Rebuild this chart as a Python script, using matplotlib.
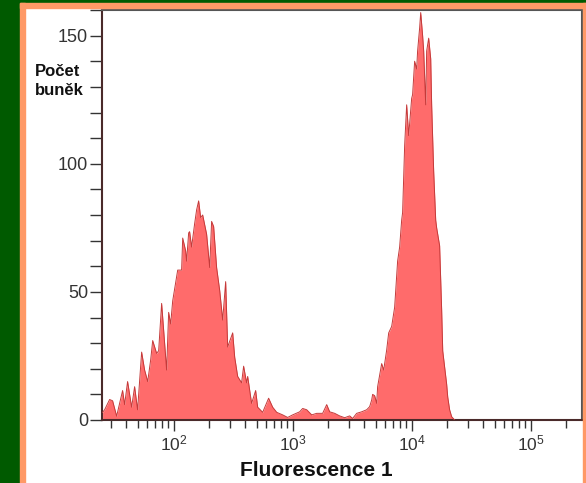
# %% Import packages
import matplotlib
matplotlib.use('Agg')
import matplotlib.pyplot as plt
import matplotlib.ticker as ticker
from matplotlib.patches import Rectangle
import numpy as np

plt.rcParams['font.family'] = ['Liberation Sans', 'DejaVu Sans']

# %% Histogram (log10 of fluorescence, cell counts)
fl_log = [1.403, 1.420, 1.462, 1.487, 1.521, 1.546, 1.571, 1.588, 1.613, 1.647,
          1.672, 1.697, 1.731, 1.756, 1.782, 1.807, 1.824, 1.857, 1.874, 1.899,
          1.916, 1.941, 1.958, 1.975, 1.992, 2.034, 2.067, 2.076, 2.101, 2.109,
          2.126, 2.134, 2.151, 2.176, 2.193, 2.210, 2.227, 2.244, 2.277, 2.303,
          2.319, 2.336, 2.361, 2.387, 2.412, 2.437, 2.454, 2.496, 2.513, 2.538,
          2.571, 2.588, 2.613, 2.622, 2.655, 2.689, 2.706, 2.748, 2.798, 2.832,
          2.866, 2.916, 2.958, 3.000, 3.059, 3.084, 3.118, 3.160, 3.202, 3.252,
          3.286, 3.311, 3.353, 3.395, 3.437, 3.479, 3.504, 3.538, 3.580, 3.622,
          3.647, 3.664, 3.672, 3.689, 3.706, 3.714, 3.748, 3.765, 3.790, 3.807,
          3.832, 3.857, 3.882, 3.899, 3.916, 3.924, 3.941, 3.958, 3.975, 4.000,
          4.008, 4.025, 4.042, 4.050, 4.067, 4.076, 4.092, 4.101, 4.118, 4.126,
          4.143, 4.160, 4.168, 4.185, 4.202, 4.210, 4.235, 4.252, 4.261, 4.294,
          4.303, 4.319, 4.336, 4.361]
counts = [3, 4, 8, 7.5, 1.5, 6.5, 11.5, 6, 15, 5,
          13, 4, 26.5, 19.5, 15, 23.5, 31, 26, 27, 45.5,
          35, 19.5, 42, 37.5, 46.5, 58.5, 58.5, 71, 66, 62,
          73, 73.5, 67.5, 76.5, 82, 85.5, 79, 80, 72.5, 59.5,
          77.5, 75.5, 59.5, 50.5, 39, 54, 28.5, 34, 24.5, 17,
          14.5, 21, 14.5, 17, 6.5, 11.5, 5, 3, 8.5, 5,
          3, 2, 1, 2, 3.2, 4.5, 4, 2, 2.6, 2.6,
          6, 3.2, 2.6, 1.6, 0.9, 1.6, 0.6, 2.6, 3.2, 4,
          5.2, 7.8, 10, 9.5, 6.5, 13, 22, 19.5, 27.3, 34,
          36.5, 44, 62, 67.5, 78, 81, 107, 123, 111, 125.5,
          127, 140, 137, 144, 153, 159, 150, 144, 123, 144,
          149, 141, 123, 97, 78, 75, 68, 43, 27, 14,
          9, 4, 1.3, 0]

y_ticks = [0, 50, 100, 150]
y_label = 'Počet\nbuněk'
x_label = 'Fluorescence 1'

fill_color = '#FF6B6B'
edge_color = '#C43A3A'

# %% Plot
fig = plt.figure(figsize=(5.86, 4.83), dpi=100)
fig.patch.set_facecolor('white')

W, H = 586.0, 483.0
# green and orange frame
fig.patches.append(Rectangle((0, 0), 20 / W, 1, transform=fig.transFigure,
                             color='#005A00', zorder=0))
fig.patches.append(Rectangle((0, 1 - 3 / H), 1, 3 / H, transform=fig.transFigure,
                             color='#005A00', zorder=0))
fig.patches.append(Rectangle((20 / W, 0), 5 / W, 1 - 3 / H, transform=fig.transFigure,
                             color='#FF9966', zorder=0))
fig.patches.append(Rectangle((20 / W, 1 - 8 / H), 1, 5 / H, transform=fig.transFigure,
                             color='#FF9966', zorder=0))
fig.patches.append(Rectangle((583 / W, 0), 3 / W, 1 - 3 / H, transform=fig.transFigure,
                             color='#FF9966', zorder=0))

ax = fig.add_axes([102 / W, 1 - 420 / H, 480 / W, 410 / H])
x = 10 ** np.array(fl_log)
ax.fill_between(x, counts, 0, color=fill_color, linewidth=0, zorder=2)
ax.plot(x, counts, color=edge_color, linewidth=0.7, zorder=3)

ax.set_xscale('log')
ax.set_xlim(25, 2.7e5)
ax.set_ylim(0, 160)

ax.set_yticks(y_ticks)
ax.yaxis.set_minor_locator(ticker.MultipleLocator(10))
ax.xaxis.set_major_locator(ticker.LogLocator(base=10, numticks=10))
ax.xaxis.set_minor_locator(ticker.LogLocator(base=10, subs=np.arange(2, 10), numticks=20))
ax.xaxis.set_minor_formatter(ticker.NullFormatter())

ax.tick_params(axis='y', which='both', direction='out', length=8.5, width=1,
               color='#333333', labelsize=13, labelcolor='#333333', pad=1.5)
ax.tick_params(axis='x', which='major', direction='out', length=8, width=1,
               color='#333333', labelsize=12.5, labelcolor='#333333', pad=2)
ax.tick_params(axis='x', which='minor', direction='out', length=5.5, width=1,
               color='#333333')

for side in ['top', 'right']:
    ax.spines[side].set_color('#555555')
    ax.spines[side].set_linewidth(1.5)
for side in ['left', 'bottom']:
    ax.spines[side].set_color('#4A2A2A')
    ax.spines[side].set_linewidth(1.5)

fig.text(35 / W, 1 - 64 / H, y_label, ha='left', va='top', fontsize=12,
         fontweight='bold', color='#111111', linespacing=1.3)
fig.text(316 / W, 1 - 476 / H, x_label, ha='center', va='baseline', fontsize=15,
         fontweight='bold', color='#111111')

plt.savefig('out.png', dpi=100)
